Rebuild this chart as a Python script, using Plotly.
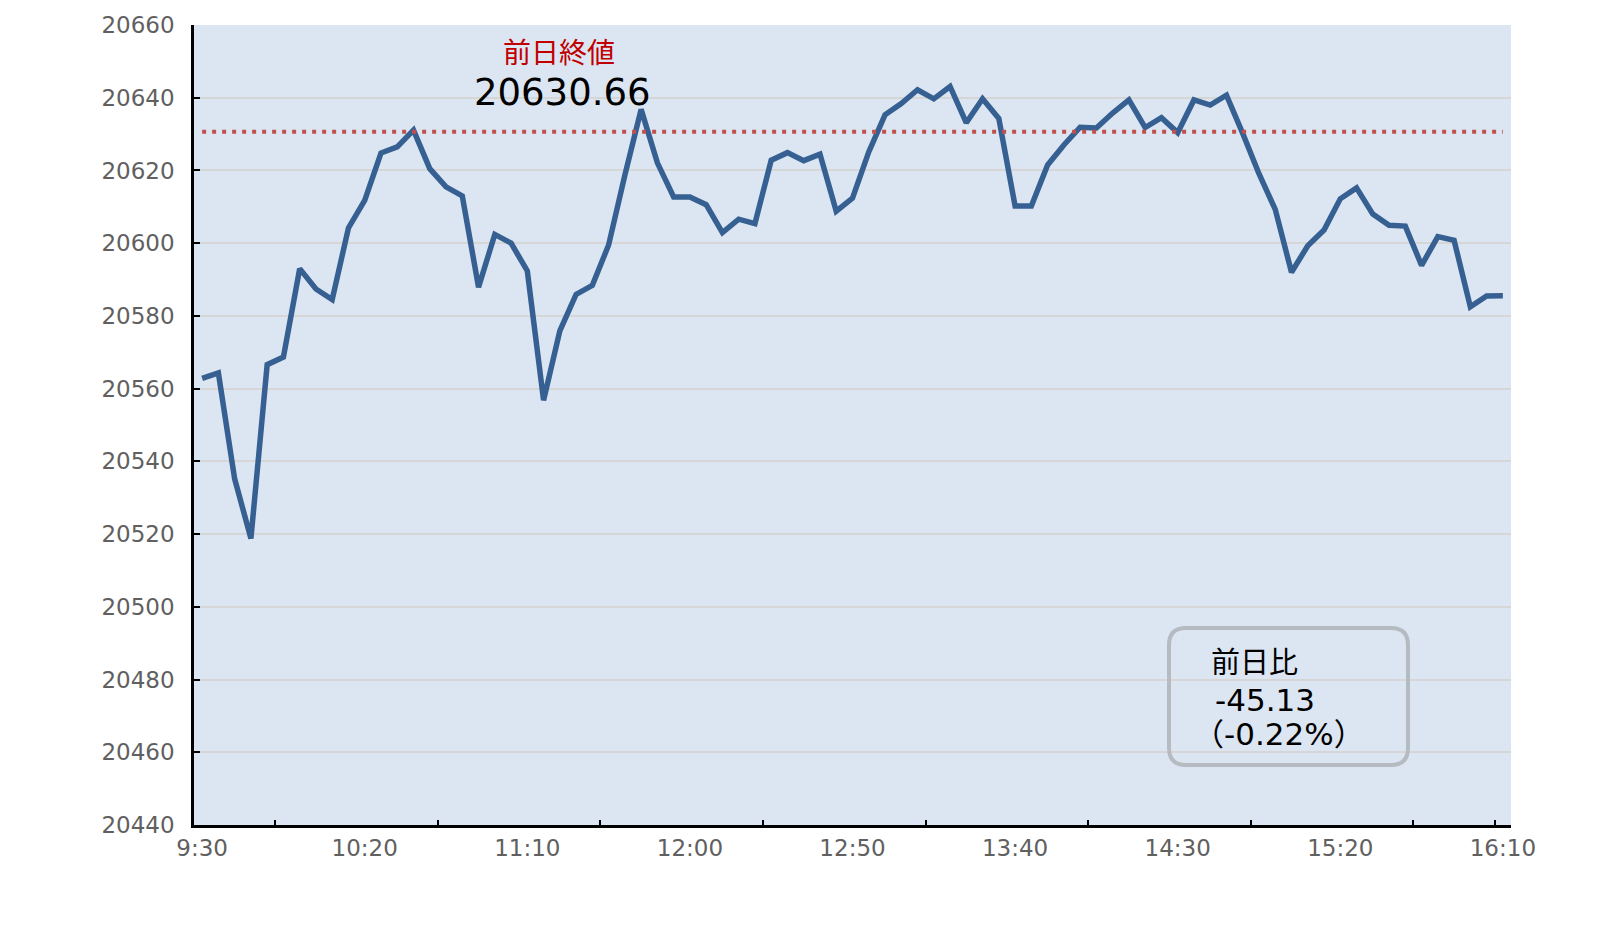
import plotly.graph_objects as go

# ---- data ----
minutes = [5 * i for i in range(81)]  # minutes since 9:30, 5-min bars
values = [
    20562.8, 20564.3, 20535.2, 20518.8, 20566.6, 20568.7, 20593.0, 20587.4, 20584.5, 20604.2,
    20611.8, 20624.8, 20626.5, 20631.1, 20620.5, 20615.5, 20613.0, 20587.9, 20602.4, 20600.0,
    20592.4, 20556.8, 20575.9, 20585.9, 20588.4, 20599.5, 20618.7, 20636.8, 20622.1, 20612.7,
    20612.7, 20610.6, 20602.9, 20606.6, 20605.4, 20622.8, 20624.9, 20622.7, 20624.5, 20608.8,
    20612.4, 20625.1, 20635.3, 20638.4, 20642.2, 20639.7, 20643.1, 20633.1, 20639.7, 20634.3,
    20610.2, 20610.2, 20621.5, 20627.0, 20631.9, 20631.7, 20635.8, 20639.4, 20631.8, 20634.5,
    20630.4, 20639.4, 20638.0, 20640.7, 20630.2, 20619.1, 20609.3, 20592.0, 20599.3, 20603.6,
    20612.2, 20615.2, 20608.0, 20604.9, 20604.7, 20593.9, 20601.8, 20600.8, 20582.5, 20585.5,
    20585.53,
]
prev_close = 20630.66
x_tick_vals = [0, 50, 100, 150, 200, 250, 300, 350, 400]
x_tick_text = ["9:30", "10:20", "11:10", "12:00", "12:50", "13:40", "14:30", "15:20", "16:10"]
x_mark_vals = [22.5, 72.5, 122.5, 172.5, 222.5, 272.5, 322.5, 372.5, 397.5]
y_tick_vals = [20440, 20460, 20480, 20500, 20520, 20540, 20560, 20580, 20600, 20620, 20640, 20660]
y_tick_text = [str(v) for v in y_tick_vals]
label_prev = "前日終値"
label_prev_value = "20630.66"
box_lines = ["前日比", "-45.13", "（-0.22%）"]

# ---- layout geometry (pixels) ----
W, H = 1605, 932
OFF = 8  # page body margin
ML, MR, MT, MB = 194 - OFF, 94 + OFF, 25 - OFF, 107 + OFF
PW, PH = W - ML - MR, H - MT - MB


def px(x):
    return (x - OFF - ML) / PW


def py(y):
    return 1 - (y - OFF - MT) / PH


FONT = "DejaVu Sans, Noto Sans CJK JP, sans-serif"
TICK_COLOR = "#606060"

fig = go.Figure()
fig.add_trace(go.Scatter(
    x=minutes, y=values, mode="lines",
    line=dict(color="#366092", width=5.5),
    hoverinfo="skip", showlegend=False,
))
fig.add_trace(go.Scatter(
    x=[minutes[0], minutes[-1]], y=[prev_close, prev_close], mode="lines",
    line=dict(color="#c0504d", width=4, dash="4px,6px"),
    hoverinfo="skip", showlegend=False,
))

# rounded box
bx0, bx1, by0, by1, r = 1169, 1408, 628, 765, 17
rx, ry = r / PW, r / PH
X0, X1, Y0, Y1 = px(bx0), px(bx1), py(by0), py(by1)
path = (f"M {X0+rx},{Y0} L {X1-rx},{Y0} Q {X1},{Y0} {X1},{Y0-ry} "
        f"L {X1},{Y1+ry} Q {X1},{Y1} {X1-rx},{Y1} "
        f"L {X0+rx},{Y1} Q {X0},{Y1} {X0},{Y1+ry} "
        f"L {X0},{Y0-ry} Q {X0},{Y0} {X0+rx},{Y0} Z")
fig.add_shape(type="path", xref="paper", yref="paper", path=path,
              line=dict(color="#b6bbc2", width=4), fillcolor="rgba(0,0,0,0)")

annotations = [
    dict(text=label_prev, x=px(559), y=py(53), font=dict(size=28, color="#c00000", family=FONT),
         xanchor="center", yanchor="middle"),
    dict(text=label_prev_value, x=px(562), y=py(93), font=dict(size=37, color="#000000", family=FONT),
         xanchor="center", yanchor="middle"),
    dict(text=box_lines[0], x=px(1209), y=py(663), font=dict(size=29, color="#000000", family=FONT),
         xanchor="left", yanchor="middle"),
    dict(text=box_lines[1], x=px(1213), y=py(700), font=dict(size=31, color="#000000", family=FONT),
         xanchor="left", yanchor="middle"),
    dict(text=box_lines[2], x=px(1191), y=py(734), font=dict(size=31, color="#000000", family=FONT),
         xanchor="left", yanchor="middle"),
]
for a in annotations:
    a.update(xref="paper", yref="paper", showarrow=False)

fig.update_layout(
    width=W, height=H, autosize=False,
    margin=dict(l=ML, r=MR, t=MT, b=MB, pad=0, autoexpand=False),
    paper_bgcolor="#ffffff", plot_bgcolor="#dce6f2",
    font=dict(family=FONT, color=TICK_COLOR, size=23),
    annotations=annotations,
    showlegend=False,
    xaxis=dict(
        range=[-2.5, 402.5], tickmode="array", tickvals=x_tick_vals, ticktext=x_tick_text,
        ticks="", showgrid=False, zeroline=False, automargin=False,
        showline=True, linecolor="#000000", linewidth=2.5,
        tickfont=dict(size=23, color=TICK_COLOR, family=FONT), ticklabelstandoff=1,
        minor=dict(tickmode="array", tickvals=x_mark_vals, ticks="inside", ticklen=5,
                   tickwidth=2, tickcolor="#000000", showgrid=False),
    ),
    yaxis=dict(
        range=[20440, 20660], tickmode="array", tickvals=y_tick_vals, ticktext=y_tick_text,
        ticks="inside", ticklen=6, tickwidth=2, tickcolor="#000000", automargin=False,
        showgrid=True, gridcolor="#d6d6d6", gridwidth=1.5, zeroline=False,
        showline=True, linecolor="#000000", linewidth=2.5,
        tickfont=dict(size=23, color=TICK_COLOR, family=FONT), ticklabelstandoff=12,
    ),
)

fig.write_html("out.html")
